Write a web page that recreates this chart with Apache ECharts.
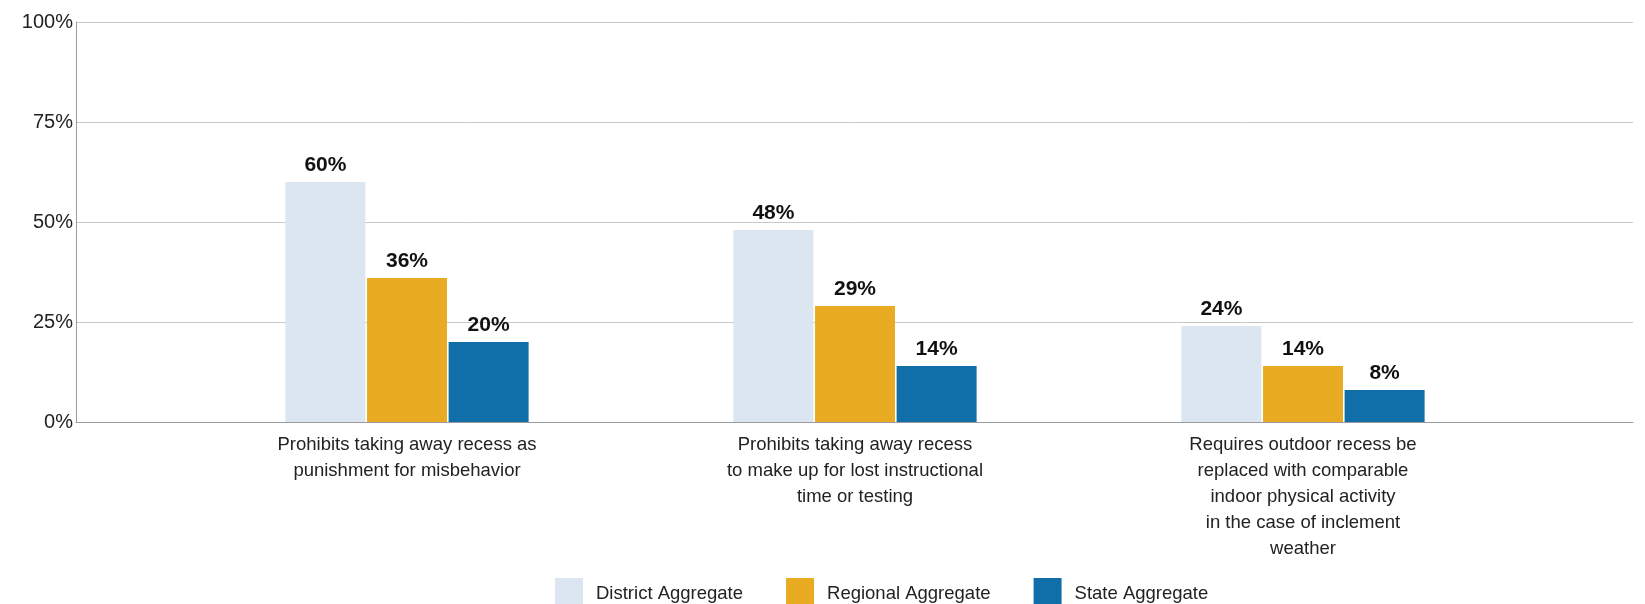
<!DOCTYPE html>
<html>
<head>
<meta charset="utf-8">
<style>
  html, body { margin: 0; padding: 0; background: #fff; }
  #chart { width: 1645px; height: 604px; }
</style>
<script src="https://cdn.jsdelivr.net/npm/echarts@6/dist/echarts.min.js"></script>
</head>
<body>
<div id="chart"></div>
<script>
// Recess policy shares by aggregate level
const categories = [
  'Prohibits taking away recess as\npunishment for misbehavior',
  'Prohibits taking away recess\nto make up for lost instructional\ntime or testing',
  'Requires outdoor recess be\nreplaced with comparable\nindoor physical activity\nin the case of inclement\nweather'
];
const seriesNames = ['District Aggregate', 'Regional Aggregate', 'State Aggregate'];
const districtValues = [60, 48, 24];
const regionalValues = [36, 29, 14];
const stateValues = [20, 14, 8];
const yTicks = [0, 25, 50, 75, 100];

const colors = ['#dce6f0', '#e9ab22', '#106fa8'];
const font = 'Liberation Sans, Arial, sans-serif';

const chart = echarts.init(document.getElementById('chart'), null, { renderer: 'canvas' });

function barSeries(name, values, color) {
  return {
    name: name,
    type: 'bar',
    xAxisIndex: 1,
    yAxisIndex: 1,
    data: values,
    barWidth: 80,
    barGap: '2%',
    itemStyle: { color: color },
    label: {
      show: true,
      position: 'top',
      distance: 6,
      formatter: p => p.value + '%',
      fontFamily: font,
      fontWeight: 'bold',
      fontSize: 21,
      color: '#111'
    },
    emphasis: { disabled: true }
  };
}

chart.setOption({
  animation: false,
  backgroundColor: '#fff',
  textStyle: { fontFamily: font },
  legend: {
    data: seriesNames,
    left: 550,
    top: 573,
    itemWidth: 28,
    itemHeight: 31,
    itemGap: 43,
    icon: 'rect',
    textStyle: {
      fontFamily: font,
      fontSize: 18.5,
      color: '#222',
      padding: [0, 0, 0, 8]
    }
  },
  grid: [
    { left: 76, right: 12, top: 22, bottom: 182 },
    { left: 183, width: 1344, top: 22, bottom: 182 }
  ],
  xAxis: [
    {
      type: 'value',
      gridIndex: 0,
      min: 0,
      max: 1,
      axisLine: { show: true, lineStyle: { color: '#9a9a9a', width: 1 } },
      axisTick: { show: false },
      axisLabel: { show: false },
      splitLine: { show: false }
    },
    {
      type: 'category',
      gridIndex: 1,
      data: categories,
      axisLine: { show: false },
      axisTick: { show: false },
      axisLabel: {
        margin: 10,
        fontFamily: font,
        fontSize: 18.5,
        lineHeight: 26,
        color: '#222',
        interval: 0
      }
    }
  ],
  yAxis: [
    {
      type: 'value',
      gridIndex: 0,
      min: yTicks[0],
      max: yTicks[yTicks.length - 1],
      interval: yTicks[1] - yTicks[0],
      axisLine: { show: true, lineStyle: { color: '#9a9a9a', width: 1 } },
      axisTick: { show: false },
      axisLabel: {
        formatter: v => v + '%',
        margin: 3,
        fontFamily: font,
        fontSize: 20,
        color: '#222'
      },
      splitLine: { show: true, lineStyle: { color: '#c8c8c8', width: 1 } }
    },
    {
      type: 'value',
      gridIndex: 1,
      min: yTicks[0],
      max: yTicks[yTicks.length - 1],
      show: false,
      splitLine: { show: false }
    }
  ],
  series: [
    barSeries(seriesNames[0], districtValues, colors[0]),
    barSeries(seriesNames[1], regionalValues, colors[1]),
    barSeries(seriesNames[2], stateValues, colors[2])
  ]
});
</script>
</body>
</html>
